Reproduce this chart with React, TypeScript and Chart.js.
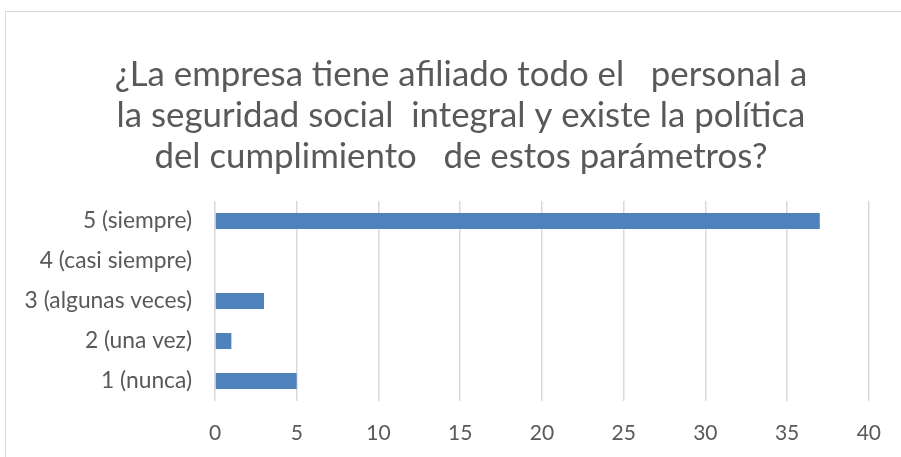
import React, { useEffect, useRef } from "react";
import { Chart, registerables } from "chart.js";

Chart.register(...registerables);

const categories = ["5 (siempre)", "4 (casi siempre)", "3 (algunas veces)", "2 (una vez)", "1 (nunca)"];
const values = [37, 0, 3, 1, 5];
const titleLines = [
  "¿La empresa tiene afiliado todo el   personal a",
  "la seguridad social  integral y existe la política",
  "del cumplimiento   de estos parámetros?",
];
const xMin = 0;
const xMax = 40;
const xStep = 5;

const TITLE_FONT_SIZE = 34.8;
const TITLE_LINE_HEIGHT = 41;
const TITLE_CENTER_X = 461;
const TITLE_FIRST_Y = 75;

const titlePlugin = {
  id: "centeredTitle",
  afterDraw(chart: any) {
    const ctx = chart.ctx;
    ctx.save();
    ctx.font = `normal ${TITLE_FONT_SIZE}px Lato`;
    ctx.fillStyle = "#595959";
    ctx.textAlign = "center";
    ctx.textBaseline = "middle";
    titleLines.forEach((line, i) => {
      ctx.fillText(line, TITLE_CENTER_X, TITLE_FIRST_Y + i * TITLE_LINE_HEIGHT);
    });
    ctx.restore();
  },
};

export default function App() {
  const ref = useRef<HTMLCanvasElement>(null);
  useEffect(() => {
    if (!ref.current) return;
    const chart = new Chart(ref.current, {
      type: "bar",
      data: {
        labels: categories,
        datasets: [
          {
            data: values,
            backgroundColor: "#4f81bd",
            borderWidth: 0,
            barPercentage: 0.4,
            categoryPercentage: 1,
          },
        ],
      },
      plugins: [titlePlugin],
      options: {
        indexAxis: "y",
        animation: false,
        responsive: false,
        devicePixelRatio: 1,
        layout: { padding: { left: 0, right: 29, top: 201, bottom: 12 } },
        plugins: {
          legend: { display: false },
          tooltip: { enabled: false },
          title: { display: false },
        },
        scales: {
          x: {
            min: xMin,
            max: xMax,
            ticks: {
              stepSize: xStep,
              color: "#595959",
              font: { family: "Lato", size: 21 },
              padding: 20,
            },
            grid: { color: "#d9d9d9", lineWidth: 1.5, drawTicks: false },
            border: { display: false },
            afterFit: (s: any) => {
              s.height = 44;
            },
          },
          y: {
            ticks: {
              color: "#595959",
              font: { family: "Lato", size: 22.8 },
              padding: 23,
            },
            grid: { display: false, drawTicks: false },
            border: { display: false },
            afterFit: (s: any) => {
              s.width = 215;
            },
          },
        },
      },
    });
    return () => chart.destroy();
  }, []);
  return (
    <div style={{ position: "fixed", left: 0, top: 0, width: 901, height: 457, background: "#fff" }}>
      <div
        style={{
          position: "absolute",
          left: 5,
          top: 11,
          width: 900,
          height: 460,
          border: "1px solid #d9d9d9",
          boxSizing: "border-box",
        }}
      />
      <canvas ref={ref} width={901} height={457} style={{ position: "absolute", left: 0, top: 0 }} />
    </div>
  );
}
